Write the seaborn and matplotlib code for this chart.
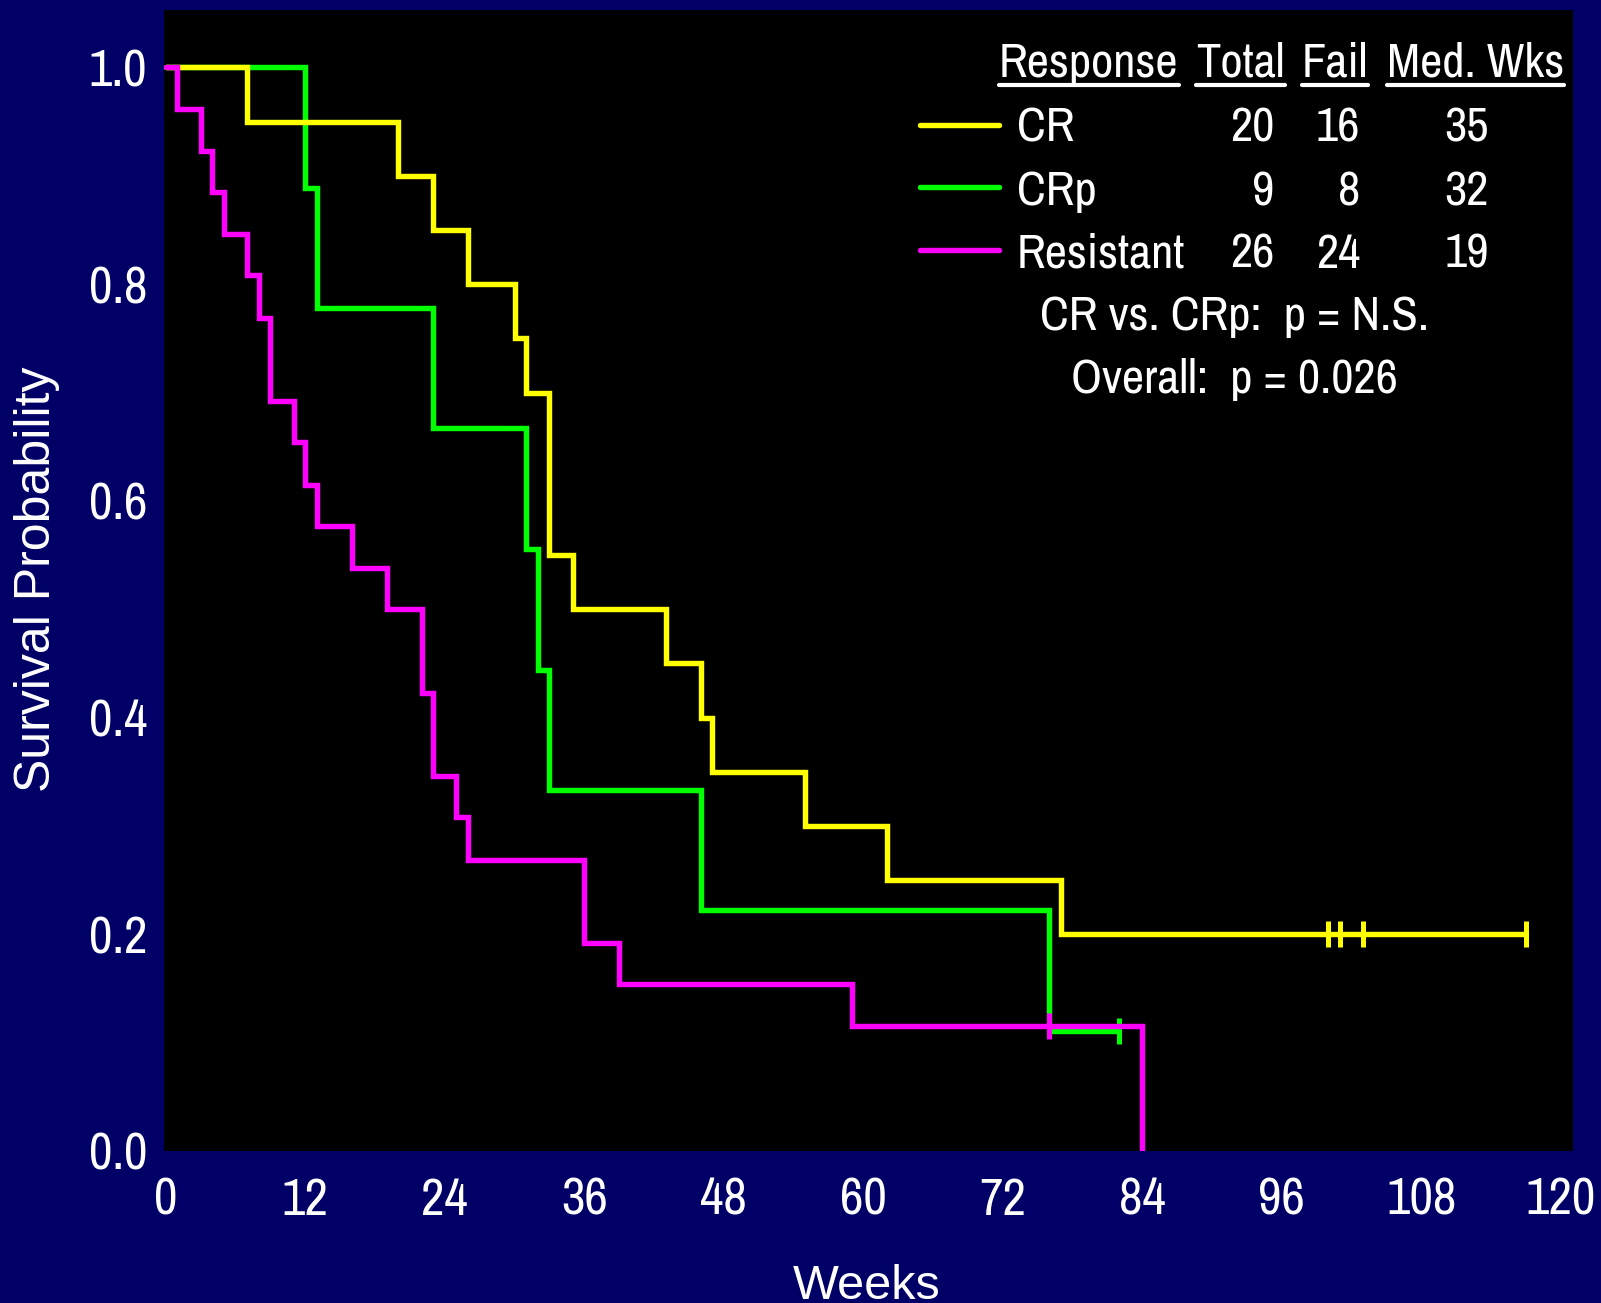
import numpy as np
import pandas as pd
import seaborn as sns
import matplotlib
matplotlib.use("Agg")
import matplotlib.pyplot as plt
from matplotlib import font_manager
from matplotlib.font_manager import FontProperties
from matplotlib.lines import Line2D

# ---- Kaplan-Meier step data (weeks, survival probability) ----
cr_weeks = [0, 7, 20, 23, 26, 30, 31, 33, 35, 43, 46, 47, 55, 62, 77, 117]
cr_surv = [1.0, 0.95, 0.90, 0.85, 0.80, 0.75, 0.70, 0.55, 0.50, 0.45, 0.40,
           0.35, 0.30, 0.25, 0.20, 0.20]
cr_censored = [100, 101, 103, 117]

crp_weeks = [0, 12, 13, 23, 31, 32, 33, 46, 76, 82]
crp_surv = [1.0, 0.889, 0.778, 0.667, 0.556, 0.444, 0.333, 0.222, 0.111, 0.111]
crp_censored = [82]

res_weeks = [0, 1, 3, 4, 5, 7, 8, 9, 11, 12, 13, 16, 19, 22, 23, 25, 26,
             36, 39, 59, 84]
res_surv = [1.0, 0.962, 0.923, 0.885, 0.846, 0.808, 0.769, 0.692, 0.654,
            0.615, 0.577, 0.538, 0.500, 0.423, 0.346, 0.308, 0.269, 0.192,
            0.154, 0.115, 0.0]
res_censored = [76]

# ---- summary table ----
groups = ["CR", "CRp", "Resistant"]
totals = [20, 9, 26]
fails = [16, 8, 24]
median_weeks = [35, 32, 19]
headers = ["Response", "Total", "Fail", "Med. Wks"]
pvalue_lines = ["CR vs. CRp:  p = N.S.", "Overall:  p = 0.026"]

x_ticks = list(range(0, 121, 12))
y_ticks = [0.0, 0.2, 0.4, 0.6, 0.8, 1.0]

colors = {"CR": "#FFFF00", "CRp": "#00FF00", "Resistant": "#FF00FF"}
navy = "#000066"

sns.set_style("dark", {"axes.facecolor": "black", "figure.facecolor": navy,
                       "axes.grid": False})
plt.rcParams["font.family"] = ["Liberation Sans", "DejaVu Sans"]


def pick_narrow_font():
    """Find an installed narrow/condensed upright sans face, if any."""
    best, best_score = None, 0
    for f in font_manager.fontManager.ttflist:
        if f.style != "normal":
            continue
        if str(f.weight).lower() not in ("400", "normal", "regular", "book"):
            continue
        name = f.name
        stretch = str(f.stretch).lower()
        fname = f.fname.lower()
        if "mono" in name.lower() or "serif" in name.lower():
            continue
        score = 0
        if name == "Liberation Sans Narrow":
            score = 100
        elif "Narrow" in name:
            score = 90
        elif name == "Roboto Condensed" or "robotocondensed-regular" in fname:
            score = 80
        elif stretch == "condensed" or ("condensed" in fname and "semi" not in fname
                                        and "extra" not in fname):
            score = 70
        elif "Condensed" in name and "Extra" not in name and "Semi" not in name:
            score = 65
        elif stretch == "semi-condensed" or "semicondensed" in fname:
            score = 50
        if score > best_score:
            best, best_score = f.fname, score
    return best


narrow_path = pick_narrow_font()


def table_font(size):
    if narrow_path is not None:
        return FontProperties(fname=narrow_path, size=size)
    # no narrow face installed: use a smaller regular face so columns fit
    return FontProperties(family=["Liberation Sans", "DejaVu Sans"], size=size * 0.8)


W, H = 1601, 1303
fig = plt.figure(figsize=(W / 100, H / 100), dpi=100, facecolor=navy)


def fx(px):
    return px / W


def fy(py):
    return 1 - py / H


ax = fig.add_axes([fx(164.3), fy(1151), fx(1573.3) - fx(164.3), fy(10) - fy(1151)])
ax.set_facecolor("black")

curves = [
    ("CRp", crp_weeks, crp_surv, crp_censored),
    ("CR", cr_weeks, cr_surv, cr_censored),
    ("Resistant", res_weeks, res_surv, res_censored),
]
for name, wk, sv, cens in curves:
    df = pd.DataFrame({"Weeks": wk, "Survival": sv})
    sns.lineplot(data=df, x="Weeks", y="Survival", ax=ax, color=colors[name],
                 drawstyle="steps-post", estimator=None, linewidth=3.9,
                 solid_joinstyle="miter")
    # censored observations marked with vertical ticks on the step curve
    cens_s = [sv[np.searchsorted(wk, c, side="right") - 1] for c in cens]
    ax.plot(cens, cens_s, linestyle="none", marker="|", markersize=19,
            markeredgewidth=3.6, color=colors[name])

ax.set_xlim(-0.13, 121.08)
ax.set_ylim(0.0, 1.053)
ax.set_xticks(x_ticks)
ax.set_xticklabels([str(t) for t in x_ticks])
ax.set_yticks(y_ticks)
ax.set_yticklabels([f"{t:.1f}" for t in y_ticks])
ax.tick_params(axis="x", length=0, pad=18.5, colors="white")
ax.tick_params(axis="y", length=0, pad=12.5, colors="white")
for lab in ax.get_xticklabels() + ax.get_yticklabels():
    lab.set_fontproperties(table_font(37))
for sp in ax.spines.values():
    sp.set_visible(False)
ax.set_xlabel("")
ax.set_ylabel("")

# axis titles
fig.text(fx(867), fy(1299), "Weeks", ha="center", va="baseline",
         color="white", fontsize=35, family=["Liberation Sans", "DejaVu Sans"])
fig.text(fx(37), fy(579), "Survival Probability", ha="center", va="center",
         rotation=90, color="white", fontsize=36,
         family=["Liberation Sans", "DejaVu Sans"])

# summary table inside the plot area
TSIZE = 35
txt_kw = dict(color="white", va="baseline")
header_x = [999, 1196, 1302, 1387]
header_texts = []
for hx, h in zip(header_x, headers):
    header_texts.append(fig.text(fx(hx), fy(76.7), h, ha="left",
                                 fontproperties=table_font(TSIZE), **txt_kw))

row_base = [141.7, 205, 267.5]
row_line_y = [125, 187, 250]
for i, g in enumerate(groups):
    fig.add_artist(Line2D([fx(920), fx(999)], [fy(row_line_y[i])] * 2,
                          color=colors[g], linewidth=3.9,
                          transform=fig.transFigure))
    fig.text(fx(1017), fy(row_base[i]), g, ha="left",
             fontproperties=table_font(TSIZE), **txt_kw)
    fig.text(fx(1274), fy(row_base[i]), str(totals[i]), ha="right",
             fontproperties=table_font(TSIZE), **txt_kw)
    fig.text(fx(1360), fy(row_base[i]), str(fails[i]), ha="right",
             fontproperties=table_font(TSIZE), **txt_kw)
    fig.text(fx(1489), fy(row_base[i]), str(median_weeks[i]), ha="right",
             fontproperties=table_font(TSIZE), **txt_kw)

for py, line in zip([330, 393], pvalue_lines):
    fig.text(fx(1234), fy(py), line, ha="center",
             fontproperties=table_font(TSIZE), **txt_kw)

# underline the column headers
fig.canvas.draw()
renderer = fig.canvas.get_renderer()
for t in header_texts:
    bb = t.get_window_extent(renderer)
    fig.add_artist(Line2D([bb.x0 / W, bb.x1 / W], [fy(84.5)] * 2, color="white",
                          linewidth=3.0, transform=fig.transFigure))

fig.savefig("out.png", dpi=100, facecolor=navy)
